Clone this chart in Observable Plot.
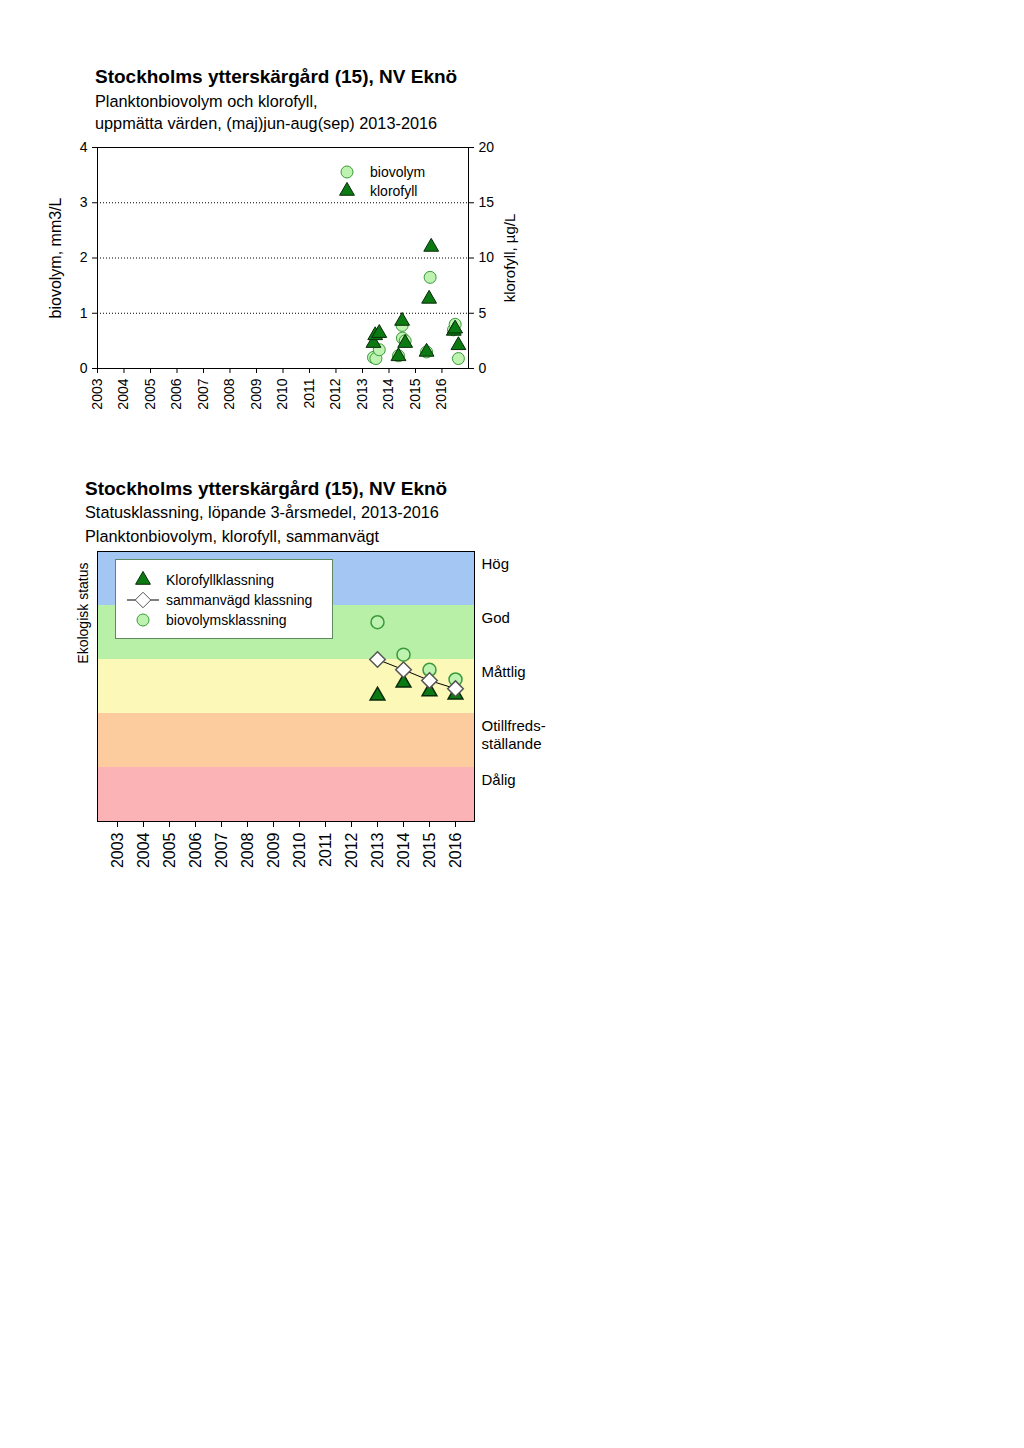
<!DOCTYPE html>
<html>
<head>
<meta charset="utf-8">
<script src="https://cdn.jsdelivr.net/npm/d3@7"></script>
<script src="https://cdn.jsdelivr.net/npm/@observablehq/plot@0.6"></script>
<style>
  html, body { margin: 0; padding: 0; background: #fff; }
  #page { position: relative; width: 1024px; height: 1448px; background: #fff; font-family: "Liberation Sans", Arial, sans-serif; color: #000; }
  .abs { position: absolute; line-height: 1; white-space: nowrap; }
  .title { font-size: 19px; font-weight: bold; }
  .sub { font-size: 16.3px; }
  svg { overflow: visible; }
</style>
</head>
<body>
<div id="page">
  <div class="abs title" style="left:95px; top:67px;">Stockholms ytterskärgård (15), NV Eknö</div>
  <div class="abs sub" style="left:95px; top:93px;">Planktonbiovolym och klorofyll,</div>
  <div class="abs sub" style="left:95px; top:115px;">uppmätta värden, (maj)jun-aug(sep) 2013-2016</div>
  <div id="chart1" class="abs" style="left:0px; top:140px;"></div>

  <div class="abs title" style="left:85px; top:479px;">Stockholms ytterskärgård (15), NV Eknö</div>
  <div class="abs sub" style="left:85px; top:504px;">Statusklassning, löpande 3-årsmedel, 2013-2016</div>
  <div class="abs sub" style="left:85px; top:528px;">Planktonbiovolym, klorofyll, sammanvägt</div>
  <div id="chart2" class="abs" style="left:0px; top:545px;"></div>
  <svg id="legends" class="abs" style="left:0; top:0;" width="1024" height="1448"></svg>
</div>
<script>
// ---------- Data: chart 1 (measured values) ----------
const years = [2003, 2004, 2005, 2006, 2007, 2008, 2009, 2010, 2011, 2012, 2013, 2014, 2015, 2016];

const bioDates = ["2013-06-01", "2013-07-05", "2013-08-20", "2014-05-12", "2014-07-01", "2014-07-05", "2014-08-12", "2015-06-03", "2015-07-22", "2016-06-08", "2016-07-01", "2016-08-15"];
const bioValues = [0.20, 0.18, 0.34, 0.23, 0.78, 0.55, 0.50, 0.30, 1.65, 0.70, 0.80, 0.18];

const klorDates = ["2013-06-01", "2013-06-25", "2013-08-20", "2014-05-12", "2014-07-01", "2014-08-12", "2015-06-03", "2015-07-08", "2015-08-06", "2016-06-12", "2016-07-01", "2016-08-15"];
const klorValues = [2.3, 3.0, 3.2, 1.1, 4.3, 2.3, 1.5, 6.3, 11.0, 3.4, 3.6, 2.1];

const bioTicks = [0, 1, 2, 3, 4];
const klorTicks = [0, 5, 10, 15, 20];

// ---------- Data: chart 2 (status classification, 0-5 scale) ----------
const statusYears = ["2013", "2014", "2015", "2016"];
const klorClass = [2.33, 2.57, 2.41, 2.35];
const sammClass = [3.00, 2.81, 2.61, 2.46];
const bioClass = [3.69, 3.09, 2.81, 2.63];

const classNames = ["Hög", "God", "Måttlig", "Otillfreds-\nställande", "Dålig"];
const classUpper = [5, 4, 3, 2, 1];
const classColors = ["#a3c7f2", "#b8f0a8", "#fbf8b8", "#fccb9e", "#fbb3b6"];

// ---------- Styles ----------
const FONT = "'Liberation Sans', Arial, sans-serif";
const triFill = "#0c7a12", triStroke = "#0a2a0a";
const circFill = "#bdf2b0", circStroke = "#3a9a3a";

// ---------- Chart 1 ----------
const parse = d3.utcParse("%Y-%m-%d");
const bio = bioDates.map((d, i) => ({date: parse(d), value: bioValues[i]}));
const klor = klorDates.map((d, i) => ({date: parse(d), value: klorValues[i]}));
const yearDates = years.map(y => new Date(Date.UTC(y, 0, 1)));
const ratio = klorTicks[klorTicks.length - 1] / bioTicks[bioTicks.length - 1];

const chart1 = Plot.plot({
  width: 540, height: 290,
  marginLeft: 97, marginRight: 72, marginTop: 7, marginBottom: 62,
  style: {fontFamily: FONT, fontSize: "13px", color: "#000", background: "transparent", overflow: "visible"},
  x: {type: "utc", domain: [new Date(Date.UTC(2003, 0, 1)), new Date(Date.UTC(2017, 0, 1))]},
  y: {domain: [0, 4]},
  marks: [
    Plot.gridY(bioTicks.slice(1, -1), {stroke: "#000", strokeOpacity: 1, strokeDasharray: "1,2"}),
    Plot.dot(bio, {x: "date", y: "value", r: 6, fill: circFill, stroke: circStroke, strokeWidth: 1}),
    Plot.dot(klor, {x: "date", y: d => d.value / ratio, symbol: "triangle", r: 5.5, fill: triFill, stroke: triStroke, strokeWidth: 1}),
    Plot.frame({stroke: "#000"}),
    Plot.axisY(bioTicks, {anchor: "left", tickSize: 5, tickPadding: 5, tickFormat: d => String(d), label: null, fontSize: 14}),
    Plot.axisY(klorTicks.map(v => v / ratio), {anchor: "right", tickSize: 5, tickPadding: 5, tickFormat: d => String(Math.round(d * ratio)), label: null, fontSize: 14}),
    Plot.axisX(yearDates, {tickSize: 5, tickPadding: 5, tickRotate: -90, tickFormat: d3.utcFormat("%Y"), label: null, fontSize: 14}),
    Plot.text(["biovolym, mm3/L"], {frameAnchor: "left", textAnchor: "middle", rotate: -90, dx: -42, fontSize: 16}),
    Plot.text(["klorofyll, µg/L"], {frameAnchor: "right", textAnchor: "middle", rotate: -90, dx: 42, fontSize: 15})
  ]
});
document.getElementById("chart1").appendChild(chart1);

// ---------- Chart 2 ----------
const classes = classNames.map((n, i) => ({name: n, hi: classUpper[i], lo: classUpper[i] - 1, color: classColors[i]}));
const status = statusYears.map((y, i) => ({year: y, klor: klorClass[i], samm: sammClass[i], bio: bioClass[i]}));

const chart2 = Plot.plot({
  width: 560, height: 330,
  marginLeft: 97, marginRight: 86, marginTop: 6, marginBottom: 54,
  style: {fontFamily: FONT, fontSize: "15px", color: "#000", background: "transparent", overflow: "visible"},
  x: {type: "band", domain: years.map(String), padding: 0},
  y: {domain: [0, 5], axis: null},
  color: {type: "identity"},
  marks: [
    Plot.rect(classes, {y1: "lo", y2: "hi", fill: "color"}),
    Plot.text(classes, {y: "hi", text: "name", frameAnchor: "right", textAnchor: "start", lineAnchor: "top", dx: 7, dy: 5, fontSize: 15, lineHeight: 1.2}),
    Plot.dot(status, {x: "year", y: "klor", symbol: "triangle", r: 5.5, fill: triFill, stroke: triStroke}),
    Plot.dot(status, {x: "year", y: "bio", r: 6.5, fill: circFill, stroke: circStroke}),
    Plot.line(status, {x: "year", y: "samm", stroke: "#000", strokeWidth: 1}),
    Plot.dot(status, {x: "year", y: "samm", symbol: "diamond2", r: 7, fill: "#fff", stroke: "#555"}),
    Plot.frame({stroke: "#000"}),
    Plot.axisX({tickSize: 6, tickPadding: 5, tickRotate: -90, label: null, fontSize: 16}),
    Plot.text(["Ekologisk status"], {frameAnchor: "top-left", textAnchor: "end", rotate: -90, dx: -19, dy: 11, fontSize: 14})
  ]
});
document.getElementById("chart2").appendChild(chart2);

// ---------- Legends ----------
const leg = d3.select("#legends");
const sym = (type, r) => d3.symbol().type(type).size(Math.PI * r * r)();
function item(g, kind, x, y, label, tx, fs) {
  if (kind === "circle") {
    g.append("circle").attr("cx", x).attr("cy", y).attr("r", 6).attr("fill", circFill).attr("stroke", circStroke);
  } else if (kind === "triangle") {
    g.append("path").attr("d", sym(d3.symbolTriangle, 5.5)).attr("transform", `translate(${x},${y})`).attr("fill", triFill).attr("stroke", triStroke);
  } else {
    g.append("line").attr("x1", x - 16).attr("x2", x + 16).attr("y1", y).attr("y2", y).attr("stroke", "#000");
    g.append("path").attr("d", sym(d3.symbolDiamond2, 7)).attr("transform", `translate(${x},${y})`).attr("fill", "#fff").attr("stroke", "#555");
  }
  g.append("text").attr("x", tx).attr("y", y).attr("dy", "0.35em").attr("font-size", fs).attr("font-family", FONT).text(label);
}
const g1 = leg.append("g");
item(g1, "circle", 347, 172, "biovolym", 370, 14);
item(g1, "triangle", 347, 191, "klorofyll", 370, 14);

const g2 = leg.append("g");
g2.append("rect").attr("x", 115.5).attr("y", 559.5).attr("width", 217).attr("height", 79).attr("fill", "#fff").attr("stroke", "#5f8a5f");
item(g2, "triangle", 143, 580, "Klorofyllklassning", 166, 14);
item(g2, "diamond", 143, 600, "sammanvägd klassning", 166, 14);
item(g2, "circle", 143, 620, "biovolymsklassning", 166, 14);
</script>
</body>
</html>
